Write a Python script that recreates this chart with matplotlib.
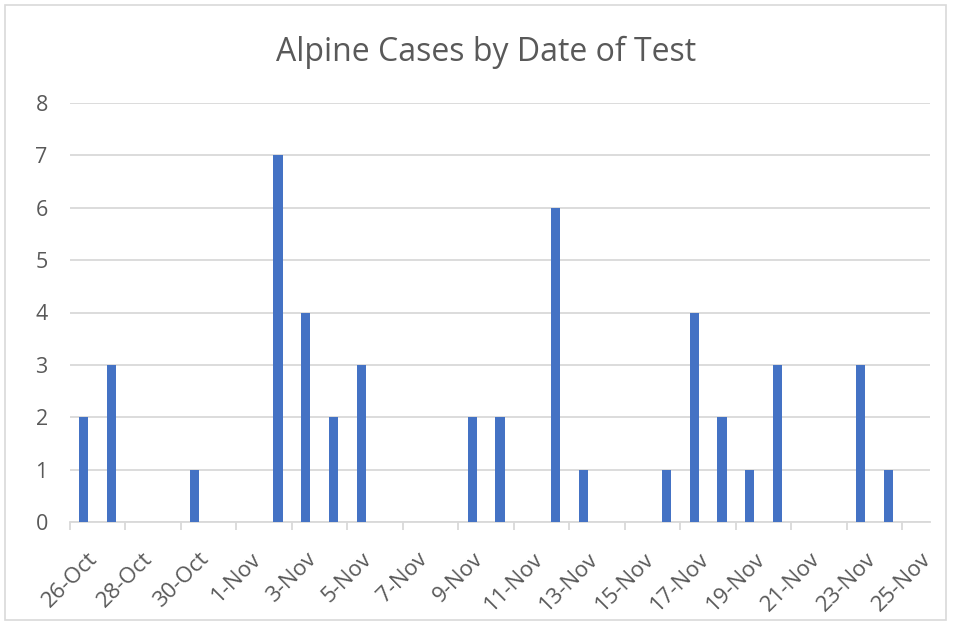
import matplotlib
matplotlib.use("Agg")
import matplotlib.pyplot as plt
import matplotlib.transforms as mtransforms
from matplotlib.patches import Rectangle
import numpy as np

# Data
dates = ["26-Oct","27-Oct","28-Oct","29-Oct","30-Oct","31-Oct",
         "1-Nov","2-Nov","3-Nov","4-Nov","5-Nov","6-Nov","7-Nov","8-Nov",
         "9-Nov","10-Nov","11-Nov","12-Nov","13-Nov","14-Nov","15-Nov",
         "16-Nov","17-Nov","18-Nov","19-Nov","20-Nov","21-Nov","22-Nov",
         "23-Nov","24-Nov","25-Nov"]
cases = [2,3,0,0,1,0,
         0,7,4,2,3,0,0,0,
         2,2,0,6,1,0,0,
         1,4,2,1,3,0,0,
         3,1,0]
yticks = [0,1,2,3,4,5,6,7,8]
title = "Alpine Cases by Date of Test"

plt.rcParams['font.family'] = ['Open Sans', 'DejaVu Sans']
fig = plt.figure(figsize=(9.54, 6.25), dpi=100)
ax = fig.add_axes([70/954, 1-522/625, 860/954, 419/625])

idx = np.arange(len(dates))
ax.bar(idx + 0.5, cases, width=0.33, color="#4472C4", zorder=3)

ax.set_xlim(0, len(dates))
ax.set_ylim(0, 8)
ax.set_yticks(yticks)
ax.set_yticklabels([str(v) for v in yticks], fontsize=15.5, color="#595959")
ax.yaxis.grid(True, color="#D9D9D9", linewidth=1.3, zorder=0)
ax.tick_params(axis='y', length=0, pad=16)

tick_idx = idx[::2]
ax.set_xticks(tick_idx)
labels = ax.set_xticklabels([dates[i] for i in tick_idx], rotation=45, ha='center',
                            va='top', fontsize=16, color="#595959")
offset = mtransforms.ScaledTranslation(-8/100, 0, fig.dpi_scale_trans)
for lab in labels:
    lab.set_transform(lab.get_transform() + offset)
ax.tick_params(axis='x', length=6, color="#D9D9D9", width=1.3, pad=13)

for s in ['top', 'right', 'left']:
    ax.spines[s].set_visible(False)
ax.spines['bottom'].set_color("#D9D9D9")
ax.spines['bottom'].set_linewidth(1.3)

fig.text(486/954, 1-61/625, title, ha='center', va='baseline', fontsize=23, color="#595959")

fig.patches.append(Rectangle((5/954, 1-620/625), 941/954, 615/625, transform=fig.transFigure,
                             fill=False, edgecolor="#D9D9D9", linewidth=1.2))

fig.savefig("out.png", dpi=100)
